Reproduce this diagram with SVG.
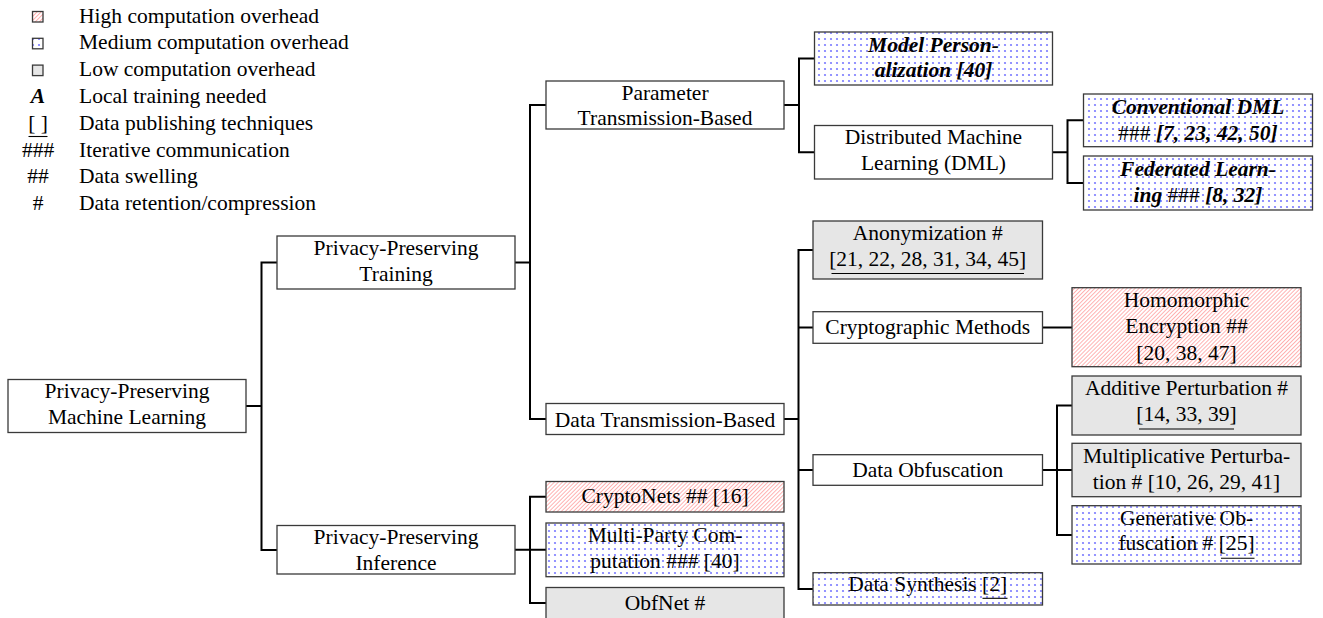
<svg xmlns="http://www.w3.org/2000/svg" width="1323" height="618" viewBox="0 0 1323 618" font-family="'Liberation Serif', 'Times New Roman', serif" font-size="21.5">
<defs>
  <pattern id="hatch" patternUnits="userSpaceOnUse" width="2.85" height="8" patternTransform="rotate(45)">
    <rect x="0" y="0" width="2.85" height="8" style="fill:#ffffff"/>
    <rect x="0" y="0" width="0.6" height="8" style="fill:#ff8080"/>
  </pattern>
  <pattern id="dots" patternUnits="userSpaceOnUse" width="6" height="6">
    <rect x="0" y="0" width="6" height="6" style="fill:#ffffff"/>
    <circle cx="3" cy="3" r="1.1" style="fill:#7a7aff"/>
  </pattern>
</defs>
<style>
  text { font-family: "Liberation Serif", "Times New Roman", serif; font-size: 21.5px; fill: #000; }
  .c { text-anchor: middle; }
  .bi { font-weight: bold; font-style: italic; }
  .n { font-weight: normal; font-style: normal; }
  .box { stroke: #3a3a3a; stroke-width: 1.3; }
  .plain { fill: #fff; }
  .high { fill: url(#hatch); }
  .med { fill: url(#dots); }
  .low { fill: #e6e6e6; }
  .conn path { fill: none; stroke: #000; stroke-width: 2; }
  .ul { stroke: #000; stroke-width: 1.1; }
</style>
<rect x="0" y="0" width="1323" height="618" fill="#fff"/>

<g id="legend">
  <rect class="box high" x="32.5" y="11.5" width="10.5" height="10.5" fill="url(#hatch)" stroke="#3a3a3a"/>
  <rect class="box med" x="32.5" y="38.3" width="10.5" height="10.5" fill="url(#dots)" stroke="#3a3a3a"/>
  <rect class="box low" x="32.5" y="65.1" width="10.5" height="10.5" fill="#e6e6e6" stroke="#3a3a3a"/>
  <text class="c bi" x="38" y="102.9" text-anchor="middle" font-weight="bold" font-style="italic">A</text>
  <text class="c" x="38" y="129.7" text-anchor="middle">[ ]</text>
  <line class="ul" x1="28.5" y1="136.5" x2="47.5" y2="136.5" stroke="#000"/>
  <text class="c" x="38" y="156.5" text-anchor="middle">###</text>
  <text class="c" x="38" y="183.3" text-anchor="middle">##</text>
  <text class="c" x="38" y="210.1" text-anchor="middle">#</text>
  <text x="79" y="22.5">High computation overhead</text>
  <text x="79" y="49.3">Medium computation overhead</text>
  <text x="79" y="76.1">Low computation overhead</text>
  <text x="79" y="102.9">Local training needed</text>
  <text x="79" y="129.7">Data publishing techniques</text>
  <text x="79" y="156.5">Iterative communication</text>
  <text x="79" y="183.3">Data swelling</text>
  <text x="79" y="210.1">Data retention/compression</text>
</g>

<g id="connectors" class="conn" fill="none" stroke="#000" stroke-width="2">
  <path d="M246,406 H261.5"/>
  <path d="M277,262.5 H261.5 V550 H277"/>
  <path d="M515,262.5 H530"/>
  <path d="M546,105 H530 V419 H546"/>
  <path d="M515,549.75 H546"/>
  <path d="M546,496.75 H530 V603 H546"/>
  <path d="M784,105 H799"/>
  <path d="M814.5,58.5 H799 V152.25 H814.5"/>
  <path d="M1052.5,152.25 H1067.5"/>
  <path d="M1083.5,120.35 H1067.5 V183 H1083.5"/>
  <path d="M784,419 H798.5"/>
  <path d="M813,250 H798.5 V589 H813"/>
  <path d="M798.5,327.5 H813"/>
  <path d="M798.5,470 H813"/>
  <path d="M1042.5,327.5 H1072"/>
  <path d="M1042.5,470 H1072"/>
  <path d="M1072,405.5 H1057 V535 H1072"/>
</g>

<g id="nodes">
<g id="root">
  <rect class="box plain" x="8" y="379.5" width="238" height="53" fill="#fff" stroke="#3a3a3a"/>
  <text class="c" x="127" y="398" text-anchor="middle">Privacy-Preserving</text>
  <text class="c" x="127" y="424" text-anchor="middle">Machine Learning</text>
</g>
<g id="ppt">
  <rect class="box plain" x="277" y="236" width="238" height="53" fill="#fff" stroke="#3a3a3a"/>
  <text class="c" x="396" y="255" text-anchor="middle">Privacy-Preserving</text>
  <text class="c" x="396" y="281" text-anchor="middle">Training</text>
</g>
<g id="ppi">
  <rect class="box plain" x="277" y="525.5" width="238" height="48.5" fill="#fff" stroke="#3a3a3a"/>
  <text class="c" x="396" y="544" text-anchor="middle">Privacy-Preserving</text>
  <text class="c" x="396" y="570" text-anchor="middle">Inference</text>
</g>
<g id="ptb">
  <rect class="box plain" x="546" y="81" width="238" height="48" fill="#fff" stroke="#3a3a3a"/>
  <text class="c" x="665" y="99.5" text-anchor="middle">Parameter</text>
  <text class="c" x="665" y="125" text-anchor="middle">Transmission-Based</text>
</g>
<g id="dtb">
  <rect class="box plain" x="546" y="403.5" width="238" height="31" fill="#fff" stroke="#3a3a3a"/>
  <text class="c" x="665" y="426.5" text-anchor="middle">Data Transmission-Based</text>
</g>
<g id="model-personalization">
  <rect class="box med" x="814.5" y="32" width="238" height="53" fill="url(#dots)" stroke="#3a3a3a"/>
  <text class="c bi" x="933.5" y="51.5" text-anchor="middle" font-weight="bold" font-style="italic">Model Person-</text>
  <text class="c bi" x="933.5" y="77" text-anchor="middle" font-weight="bold" font-style="italic">alization [40]</text>
</g>
<g id="dml">
  <rect class="box plain" x="814.5" y="125.5" width="238" height="53.5" fill="#fff" stroke="#3a3a3a"/>
  <text class="c" x="933.5" y="144" text-anchor="middle">Distributed Machine</text>
  <text class="c" x="933.5" y="170" text-anchor="middle">Learning (DML)</text>
</g>
<g id="conventional-dml">
  <rect class="box med" x="1083.5" y="94" width="229" height="52.7" fill="url(#dots)" stroke="#3a3a3a"/>
  <text class="c bi" x="1198" y="113.5" text-anchor="middle" font-weight="bold" font-style="italic">Conventional DML</text>
  <text class="c bi" x="1198" y="139.5" text-anchor="middle" font-weight="bold" font-style="italic"><tspan class="n" font-weight="normal" font-style="normal">###</tspan> [7, 23, 42, 50]</text>
</g>
<g id="federated-learning">
  <rect class="box med" x="1083.5" y="156" width="229" height="54" fill="url(#dots)" stroke="#3a3a3a"/>
  <text class="c bi" x="1198" y="176" text-anchor="middle" font-weight="bold" font-style="italic">Federated Learn-</text>
  <text class="c bi" x="1198" y="202" text-anchor="middle" font-weight="bold" font-style="italic">ing <tspan class="n" font-weight="normal" font-style="normal">###</tspan> [8, 32]</text>
</g>
<g id="anonymization">
  <rect class="box low" x="813" y="221" width="229.5" height="58" fill="#e6e6e6" stroke="#3a3a3a"/>
  <text class="c" x="927.75" y="240" text-anchor="middle">Anonymization #</text>
  <text class="c" x="927.75" y="266" text-anchor="middle">[21, 22, 28, 31, 34, 45]</text>
  <line class="ul" x1="831.5" y1="273.5" x2="1024" y2="273.5" stroke="#000"/>
</g>
<g id="cryptographic-methods">
  <rect class="box plain" x="813" y="311.7" width="229.5" height="31.6" fill="#fff" stroke="#3a3a3a"/>
  <text class="c" x="927.75" y="334" text-anchor="middle">Cryptographic Methods</text>
</g>
<g id="data-obfuscation">
  <rect class="box plain" x="813" y="454.7" width="229.5" height="30.6" fill="#fff" stroke="#3a3a3a"/>
  <text class="c" x="927.75" y="477" text-anchor="middle">Data Obfuscation</text>
</g>
<g id="data-synthesis">
  <rect class="box med" x="813" y="572.7" width="229.5" height="32.3" fill="url(#dots)" stroke="#3a3a3a"/>
  <text class="c" x="927.75" y="591" text-anchor="middle">Data Synthesis [2]</text>
  <line class="ul" x1="982.5" y1="598.3" x2="1007.5" y2="598.3" stroke="#000"/>
</g>
<g id="homomorphic-encryption">
  <rect class="box high" x="1072" y="287.7" width="229" height="79" fill="url(#hatch)" stroke="#3a3a3a"/>
  <text class="c" x="1186.5" y="306.5" text-anchor="middle">Homomorphic</text>
  <text class="c" x="1186.5" y="333" text-anchor="middle">Encryption ##</text>
  <text class="c" x="1186.5" y="359.5" text-anchor="middle">[20, 38, 47]</text>
</g>
<g id="additive-perturbation">
  <rect class="box low" x="1072" y="376" width="229" height="59" fill="#e6e6e6" stroke="#3a3a3a"/>
  <text class="c" x="1186.5" y="395" text-anchor="middle">Additive Perturbation #</text>
  <text class="c" x="1186.5" y="421" text-anchor="middle">[14, 33, 39]</text>
  <line class="ul" x1="1139" y1="429" x2="1234" y2="429" stroke="#000"/>
</g>
<g id="multiplicative-perturbation">
  <rect class="box low" x="1072" y="443.3" width="229" height="53.4" fill="#e6e6e6" stroke="#3a3a3a"/>
  <text class="c" x="1186.5" y="463" text-anchor="middle">Multiplicative Perturba-</text>
  <text class="c" x="1186.5" y="489" text-anchor="middle">tion # [10, 26, 29, 41]</text>
</g>
<g id="generative-obfuscation">
  <rect class="box med" x="1072" y="505.7" width="229" height="58.3" fill="url(#dots)" stroke="#3a3a3a"/>
  <text class="c" x="1186.5" y="524.5" text-anchor="middle">Generative Ob-</text>
  <text class="c" x="1186.5" y="550" text-anchor="middle">fuscation # [25]</text>
  <line class="ul" x1="1221" y1="558.3" x2="1254.5" y2="558.3" stroke="#000"/>
</g>
<g id="cryptonets">
  <rect class="box high" x="546" y="481.5" width="238" height="30.5" fill="url(#hatch)" stroke="#3a3a3a"/>
  <text class="c" x="665" y="503" text-anchor="middle">CryptoNets ## [16]</text>
</g>
<g id="multi-party-computation">
  <rect class="box med" x="546" y="523" width="238" height="53.7" fill="url(#dots)" stroke="#3a3a3a"/>
  <text class="c" x="665" y="542" text-anchor="middle">Multi-Party Com-</text>
  <text class="c" x="665" y="568" text-anchor="middle">putation ### [40]</text>
</g>
<g id="obfnet">
  <rect class="box low" x="546" y="587.5" width="238" height="33" fill="#e6e6e6" stroke="#3a3a3a"/>
  <text class="c" x="665" y="610" text-anchor="middle">ObfNet #</text>
</g>
</g>
</svg>
